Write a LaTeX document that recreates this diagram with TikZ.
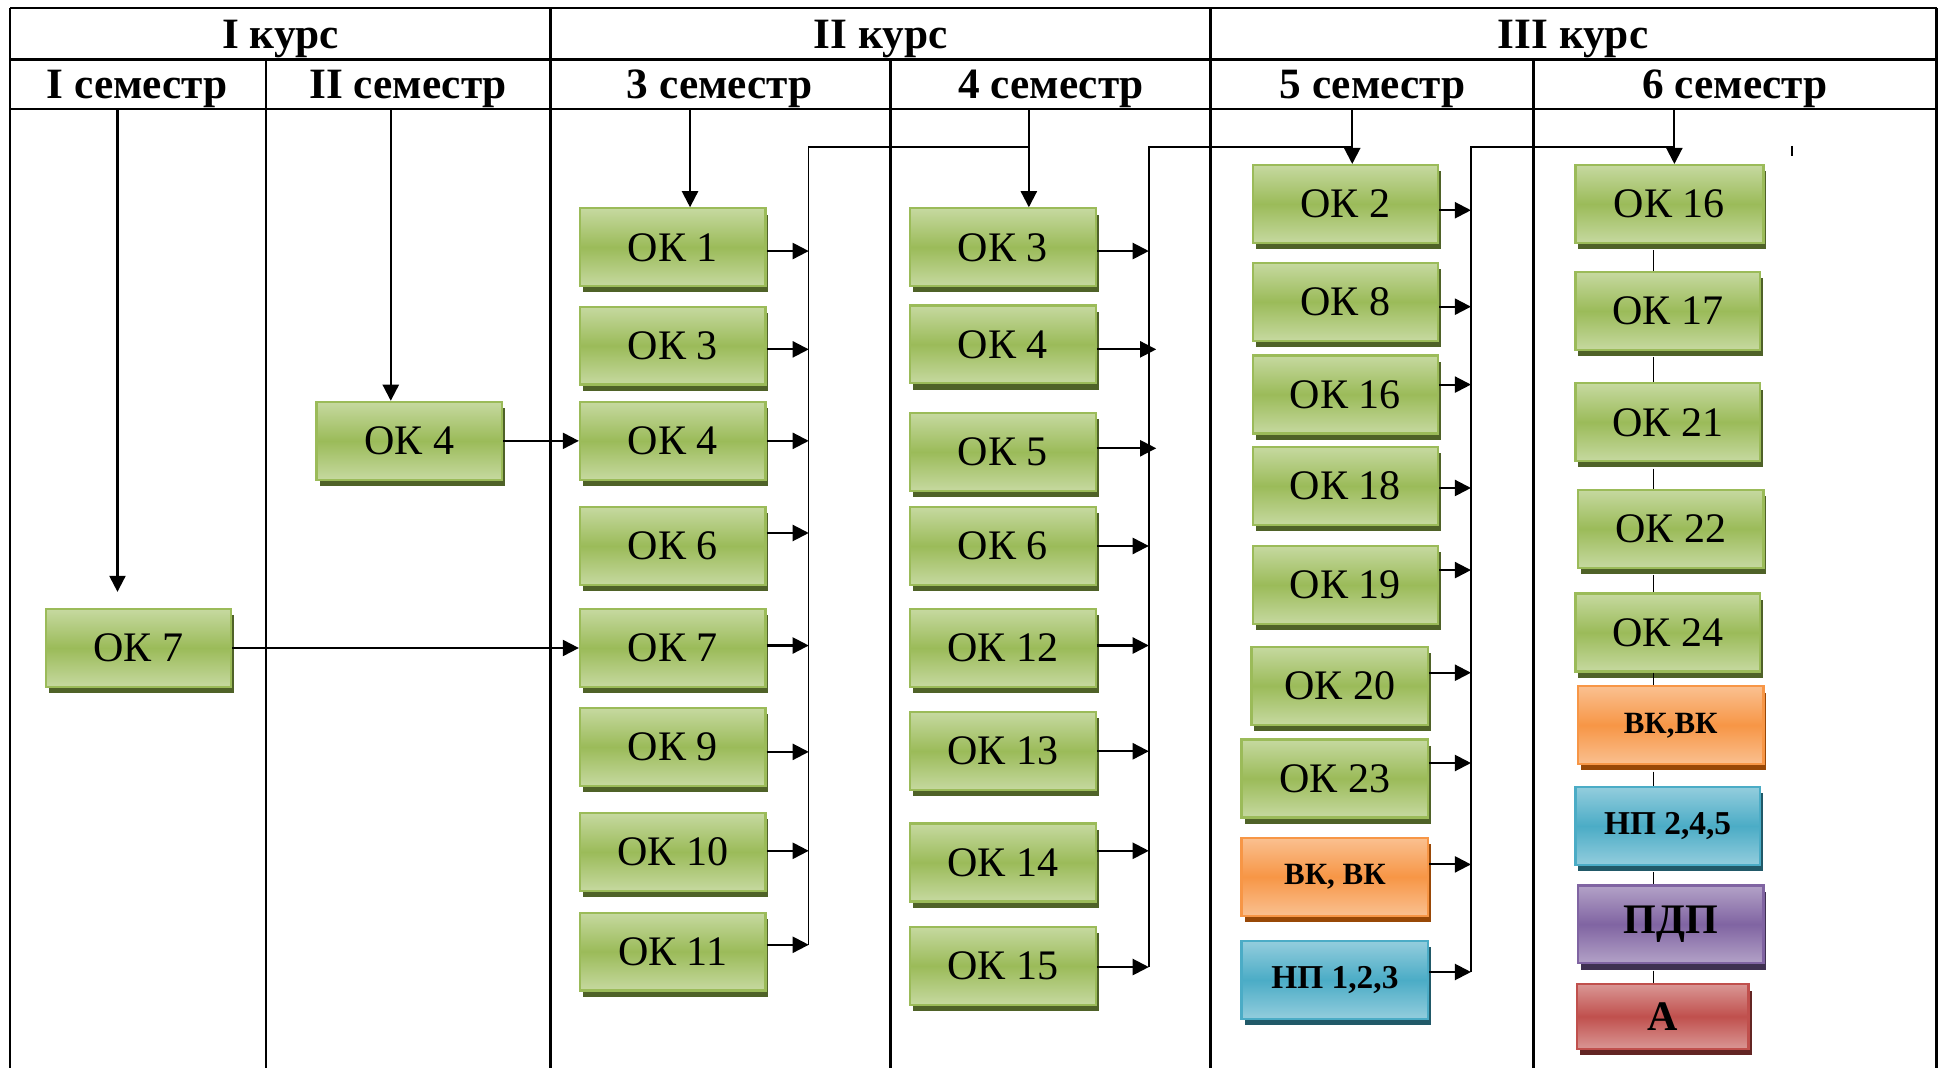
\documentclass[tikz,border=0pt]{standalone}
\usepackage{fontspec}
\setmainfont{Liberation Serif}
\usetikzlibrary{arrows.meta,shadows}
\definecolor{gTop}{HTML}{C6D9A0}
\definecolor{gMid}{HTML}{9BBB59}
\definecolor{gSh}{HTML}{4F6228}
\definecolor{oTop}{HTML}{FAC090}
\definecolor{oMid}{HTML}{F79646}
\definecolor{oSh}{HTML}{984807}
\definecolor{bTop}{HTML}{93CDDD}
\definecolor{bMid}{HTML}{4BACC6}
\definecolor{bSh}{HTML}{215968}
\definecolor{pTop}{HTML}{B3A2C7}
\definecolor{pMid}{HTML}{8064A2}
\definecolor{pSh}{HTML}{3F3151}
\definecolor{rTop}{HTML}{D99694}
\definecolor{rMid}{HTML}{C0504D}
\definecolor{rSh}{HTML}{632523}
\tikzset{
  cellbox/.style={rectangle, inner sep=0pt, line width=0.9pt, minimum width=75pt, minimum height=31.5pt},
  shadethree/.style n args={3}{top color=#1, bottom color=#1, middle color=#2, draw=#2,
     drop shadow={shadow xshift=1.2pt, shadow yshift=-2.5pt, fill=#3, opacity=1}},
  gbox/.style={cellbox, shadethree={gTop}{gMid}{gSh}, font=\fontsize{17}{19}\selectfont},
  obox/.style={cellbox, shadethree={oTop}{oMid}{oSh}, font=\bfseries\fontsize{12.5}{14}\selectfont},
  bbox/.style={cellbox, shadethree={bTop}{bMid}{bSh}, font=\bfseries\fontsize{13.5}{15}\selectfont},
  pbox/.style={cellbox, shadethree={pTop}{pMid}{pSh}, font=\bfseries\fontsize{17}{19}\selectfont},
  rbox/.style={cellbox, shadethree={rTop}{rMid}{rSh}, font=\bfseries\fontsize{17}{19}\selectfont},
  hdr/.style={font=\bfseries\fontsize{17.5}{19}\selectfont, inner sep=0pt, anchor=base},
  tline/.style={line width=1pt},
  arr/.style={line width=0.85pt, -{Triangle[length=6.5pt,width=6.5pt]}},
  busline/.style={line width=0.6pt},
  link/.style={line width=0.6pt},
}
% #1 node, #2 bus coordinate, #3 vertical shift, #4 extension beyond bus
\newcommand\boxarrow[4]{\draw[arr] ([yshift=#3]#1.east) -- ([yshift=#3,xshift=#4]#1.east -| #2);}
\begin{document}
\begin{tikzpicture}[x=0.5pt,y=-0.5pt]
\useasboundingbox (0,0) rectangle (1568,864);
% table
\draw[tline] (8,6.5) -- (1566,6.5);
\draw[tline] (8,48) -- (1566,48);
\draw[tline] (8,88) -- (1566,88);
\draw[tline] (8,6.5) -- (8,864);
\draw[tline] (445,6.5) -- (445,864);
\draw[tline] (979,6.5) -- (979,864);
\draw[tline] (1566,6.5) -- (1566,864);
\draw[tline] (215,48) -- (215,864);
\draw[tline] (720,48) -- (720,864);
\draw[tline] (1240,48) -- (1240,864);
% headers
\node[hdr] (k1) at (227,39) {I курс};
\node[hdr] (k2) at (712,39) {II курс};
\node[hdr] (k3) at (1272,39) {III курс};
\node[hdr] (s1) at (111,80) {I семестр};
\node[hdr] (s2) at (330,80) {II семестр};
\node[hdr] (s3) at (582,80) {3 семестр};
\node[hdr] (s4) at (850,80) {4 семестр};
\node[hdr] (s5) at (1110,80) {5 семестр};
\node[hdr] (s6) at (1403,80) {6 семестр};
% column 1, 2
\node[gbox] (a7) at (112,524) {ОК 7};
\node[gbox] (b4) at (331,356.5) {ОК 4};
% column 3
\node[gbox] (c1) at (544,200) {ОК 1};
\node[gbox] (c3) at (544,279.5) {ОК 3};
\node[gbox] (c4) at (544,356.5) {ОК 4};
\node[gbox] (c6) at (544,441.5) {ОК 6};
\node[gbox] (c7) at (544,524) {ОК 7};
\node[gbox] (c9) at (544,604) {ОК 9};
\node[gbox] (c10) at (544,689) {ОК 10};
\node[gbox] (c11) at (544,769.5) {ОК 11};
% column 4
\node[gbox] (d3) at (811,200) {ОК 3};
\node[gbox] (d4) at (811,278.5) {ОК 4};
\node[gbox] (d5) at (811,365.5) {ОК 5};
\node[gbox] (d6) at (811,441.5) {ОК 6};
\node[gbox] (d12) at (811,524) {ОК 12};
\node[gbox] (d13) at (811,607.5) {ОК 13};
\node[gbox] (d14) at (811,697.5) {ОК 14};
\node[gbox] (d15) at (811,781) {ОК 15};
% column 5
\node[gbox] (e2) at (1088,165) {ОК 2};
\node[gbox] (e8) at (1088,244) {ОК 8};
\node[gbox] (e16) at (1088,319) {ОК 16};
\node[gbox] (e18) at (1088,393) {ОК 18};
\node[gbox] (e19) at (1088,473) {ОК 19};
\node[gbox, minimum width=71.5pt] (e20) at (1083.5,554.5) {ОК 20};
\node[gbox, minimum width=75.5pt] (e23) at (1079.5,629.5) {ОК 23};
\node[obox, minimum width=75.5pt] (evk) at (1079.5,709) {ВК, ВК};
\node[bbox, minimum width=75.5pt] (enp) at (1079.5,792.5) {НП 1,2,3};
% column 6
\node[gbox, minimum width=76pt] (f16) at (1350,165) {ОК 16};
\node[gbox, minimum width=74.5pt] (f17) at (1348.5,251.5) {ОК 17};
\node[gbox, minimum width=74.5pt] (f21) at (1348.5,341.5) {ОК 21};
\node[gbox] (f22) at (1351,427.5) {ОК 22};
\node[gbox, minimum width=74.5pt] (f24) at (1348.5,511.5) {ОК 24};
\node[obox] (fvk) at (1351,586.5) {ВК,ВК};
\node[bbox, minimum width=74.5pt] (fnp) at (1348.5,668) {НП 2,4,5};
\node[pbox] (fpdp) at (1351,747.5) {ПДП};
\node[rbox, minimum width=69.5pt, minimum height=26pt] (fa) at (1344.5,822) {А};
% entry points and buses
\coordinate (i1) at (95,88);
\coordinate (i2) at (316,88);
\coordinate (i3) at (558,88);
\coordinate (i4) at (832,88);
\coordinate (i5) at (1093.5,88);
\coordinate (i6) at (1354,88);
\coordinate (t3) at (654,119);
\coordinate (u3) at (654,764);
\coordinate (t4) at (929,119);
\coordinate (u4) at (929,782);
\coordinate (t5) at (1189.5,119);
\coordinate (u5) at (1189.5,786);
\coordinate (l6) at (1337,0);
\draw[arr, shorten >=6.5pt] (i1) -- (i1 |- a7.north);
\draw[arr] (i2) -- (i2 |- b4.north);
\draw[arr] (i3) -- (i3 |- c1.north);
\draw[arr] (i4) -- (i4 |- d3.north);
\draw[arr] (i5) -- (i5 |- e2.north);
\draw[arr] (i6) -- (i6 |- f16.north);
\draw[busline] (u3) -- (t3) -- (t3 -| i4);
\draw[busline] (u4) -- (t4) -- (t4 -| i5);
\draw[busline] (u5) -- (t5) -- (t5 -| i6);
% cross-column arrows
\draw[arr] (a7.east) -- (a7.east -| c7.west);
\draw[arr] (b4.east) -- (b4.east -| c4.west);
% column 3 arrows
\boxarrow{c1}{t3}{-1.5pt}{0pt}
\boxarrow{c3}{t3}{-1.5pt}{0pt}
\boxarrow{c4}{t3}{0pt}{0pt}
\boxarrow{c6}{t3}{5.25pt}{0pt}
\boxarrow{c7}{t3}{1pt}{0pt}
\boxarrow{c9}{t3}{-2pt}{0pt}
\boxarrow{c10}{t3}{0.5pt}{0pt}
\boxarrow{c11}{t3}{2.75pt}{0pt}
% column 4 arrows
\boxarrow{d3}{t4}{-1.5pt}{0pt}
\boxarrow{d4}{t4}{-2pt}{3pt}
\boxarrow{d5}{t4}{1.5pt}{3pt}
\boxarrow{d6}{t4}{0pt}{0pt}
\boxarrow{d12}{t4}{1pt}{0pt}
\boxarrow{d13}{t4}{0pt}{0pt}
\boxarrow{d14}{t4}{4.75pt}{0pt}
\boxarrow{d15}{t4}{-0.5pt}{0pt}
% column 5 arrows
\boxarrow{e2}{t5}{-2.5pt}{0pt}
\boxarrow{e8}{t5}{-2pt}{0pt}
\boxarrow{e16}{t5}{4pt}{0pt}
\boxarrow{e18}{t5}{-0.8pt}{0pt}
\boxarrow{e19}{t5}{6pt}{0pt}
\boxarrow{e20}{t5}{5.25pt}{0pt}
\boxarrow{e23}{t5}{6.25pt}{0pt}
\boxarrow{evk}{t5}{5pt}{0pt}
\boxarrow{enp}{t5}{3.25pt}{0pt}
% column 6 links
\draw[link, shorten <=2.5pt] (f16.south -| l6) -- (f17.north -| l6);
\draw[link, shorten <=2.5pt] (f17.south -| l6) -- (f21.north -| l6);
\draw[link, shorten <=2.5pt] (f21.south -| l6) -- (f22.north -| l6);
\draw[link, shorten <=2.5pt] (f22.south -| l6) -- (f24.north -| l6);
\draw[link] (f24.south -| l6) -- (fvk.north -| l6);
\draw[link, shorten <=2.5pt] (fvk.south -| l6) -- (fnp.north -| l6);
\draw[link, shorten <=2.5pt] (fnp.south -| l6) -- (fpdp.north -| l6);
\draw[link, shorten <=2.5pt] (fpdp.south -| l6) -- (fa.north -| l6);
% stray tick
\draw[line width=0.8pt] (1449,118) -- (1449,126);
\end{tikzpicture}
\end{document}
